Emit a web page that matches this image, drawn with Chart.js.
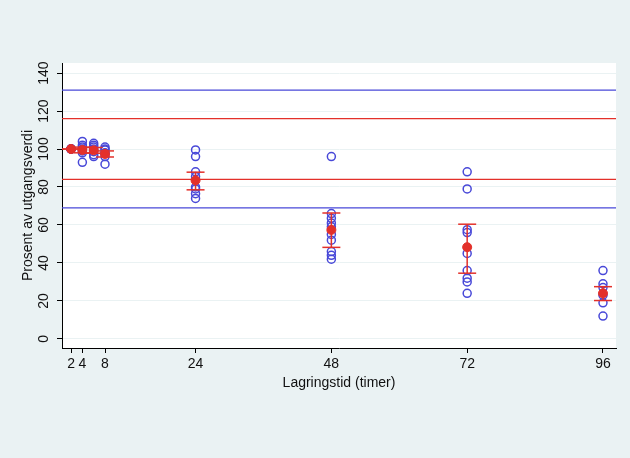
<!DOCTYPE html>
<html><head><meta charset="utf-8">
<script src="https://cdn.jsdelivr.net/npm/chart.js@4.4.0/dist/chart.umd.min.js"></script>
<style>html,body{margin:0;padding:0;background:#eaf2f3;} #c{display:block;}</style>
</head><body>
<canvas id="c" width="630" height="458"></canvas>
<script>
// ---- data ----
const times = [2, 4, 6, 8, 24, 48, 72, 96];
const obs2  = [100, 100, 100, 100, 100, 100];
const obs4  = [104, 102, 101, 100, 99, 98, 93];
const obs6  = [103, 102, 101, 100, 98.6, 97, 96];
const obs8  = [101, 100, 99.5, 98, 97.7, 96, 92];
const obs24 = [99.5, 96, 88, 85.5, 80, 79, 76.5, 74];
const obs48 = [96, 66, 63.5, 61, 59, 55, 52, 46, 44, 42];
const obs72 = [88, 79, 57.5, 56, 45, 36, 32, 30, 24];
const obs96 = [36, 29, 27, 23, 19, 12];
const meanValues = [100, 99.5, 99.3, 97.4, 83.5, 57.4, 48.3, 24];
const upperValues = [100, 101, 100.8, 99, 87.8, 66.3, 60.4, 27.5];
const lowerValues = [100, 98, 97.8, 95.8, 78.5, 48.2, 34.6, 20.2];
const blueRefLines = [131, 69];
const redRefLines = [116, 84];
const xTicks = [2, 4, 8, 24, 48, 72, 96];
const yTicks = [0, 20, 40, 60, 80, 100, 120, 140];
const xTitle = 'Lagringstid (timer)';
const yTitle = 'Prosent av utgangsverdi';

const X_MIN = 0.4, X_MAX = 98.3, Y_MIN = -4.8, Y_MAX = 145.3;
const BLUE = '#4848d8', RED = '#e3302a', GRID = '#eaf2f3', FONT = '"Liberation Sans", Arial, Helvetica, sans-serif';

const allObs = [obs2, obs4, obs6, obs8, obs24, obs48, obs72, obs96];
const obsPoints = [];
allObs.forEach((arr, i) => arr.forEach(v => obsPoints.push({x: times[i], y: v})));
const meanPoints = times.map((t, i) => ({x: t, y: meanValues[i]}));
const capPoints = [];
const barPoints = [];
times.forEach((t, i) => {
  capPoints.push({x: t, y: upperValues[i]}, {x: t, y: lowerValues[i]});
  barPoints.push({x: t, y: lowerValues[i]}, {x: t, y: upperValues[i]}, {x: t, y: null});
});
function hline(v) { return [{x: X_MIN, y: v}, {x: X_MAX, y: v}]; }
const refDatasets = [];
blueRefLines.forEach(v => refDatasets.push({data: hline(v), borderColor: BLUE, borderWidth: 1.3, showLine: true, pointRadius: 0, order: 5}));
redRefLines.forEach(v => refDatasets.push({data: hline(v), borderColor: RED, borderWidth: 1.3, showLine: true, pointRadius: 0, order: 5}));

const bgPlugin = {
  id: 'bg',
  beforeDraw(chart) {
    const {ctx, chartArea: a} = chart;
    ctx.save();
    ctx.fillStyle = '#eaf2f3';
    ctx.fillRect(0, 0, chart.width, chart.height);
    ctx.fillStyle = '#ffffff';
    ctx.fillRect(a.left, a.top, a.right - a.left, a.bottom - a.top);
    ctx.restore();
  },
  afterDraw(chart) {
    const {ctx, chartArea: a} = chart;
    const ys = chart.scales.y;
    ctx.save();
    ctx.fillStyle = '#111';
    ctx.font = '14px ' + FONT;
    ctx.textAlign = 'center';
    ctx.textBaseline = 'middle';
    yTicks.forEach(v => {
      const py = ys.getPixelForValue(v);
      ctx.save();
      ctx.translate(44, py);
      ctx.rotate(-Math.PI / 2);
      ctx.fillText(String(v), 0, 0);
      ctx.restore();
    });
    ctx.save();
    ctx.translate(28, (a.top + a.bottom) / 2);
    ctx.rotate(-Math.PI / 2);
    ctx.fillText(yTitle, 0, 0);
    ctx.restore();
    ctx.fillText(xTitle, (a.left + a.right) / 2, 383);
    ctx.restore();
  }
};

new Chart(document.getElementById('c'), {
  type: 'scatter',
  data: {
    datasets: [
      {data: meanPoints, pointStyle: 'circle', pointRadius: 4.5, backgroundColor: RED, borderColor: RED, borderWidth: 1, order: 0},
      {data: capPoints, pointStyle: 'line', pointRadius: 9, borderColor: RED, borderWidth: 1.5, order: 1},
      {data: barPoints, showLine: true, spanGaps: false, pointRadius: 0, borderColor: RED, borderWidth: 1.5, order: 1},
      {data: obsPoints, pointStyle: 'circle', pointRadius: 4, backgroundColor: 'rgba(0,0,0,0)', borderColor: BLUE, borderWidth: 1.5, order: 2},
      ...refDatasets
    ]
  },
  options: {
    responsive: false,
    animation: false,
    events: [],
    layout: {padding: {top: 63, right: 14, left: 0, bottom: 0}},
    plugins: {legend: {display: false}, tooltip: {enabled: false}},
    scales: {
      x: {
        type: 'linear', min: X_MIN, max: X_MAX,
        afterBuildTicks(s) { s.ticks = xTicks.map(v => ({value: v})); },
        afterFit(s) { s.height = 458 - 348; },
        grid: {drawOnChartArea: false, drawTicks: true, tickLength: 5, tickColor: '#000', lineWidth: 1},
        border: {display: true, color: '#000', width: 1},
        ticks: {color: '#111', font: {family: FONT, size: 14}, padding: 3, maxRotation: 0, minRotation: 0, autoSkip: false}
      },
      y: {
        type: 'linear', min: Y_MIN, max: Y_MAX,
        afterBuildTicks(s) { s.ticks = yTicks.map(v => ({value: v})); },
        afterFit(s) { s.width = 62; },
        grid: {color: GRID, drawTicks: true, tickLength: 5, tickColor: '#000', lineWidth: 1},
        border: {display: true, color: '#000', width: 1},
        ticks: {display: false}
      }
    }
  },
  plugins: [bgPlugin]
});
</script>
</body></html>
